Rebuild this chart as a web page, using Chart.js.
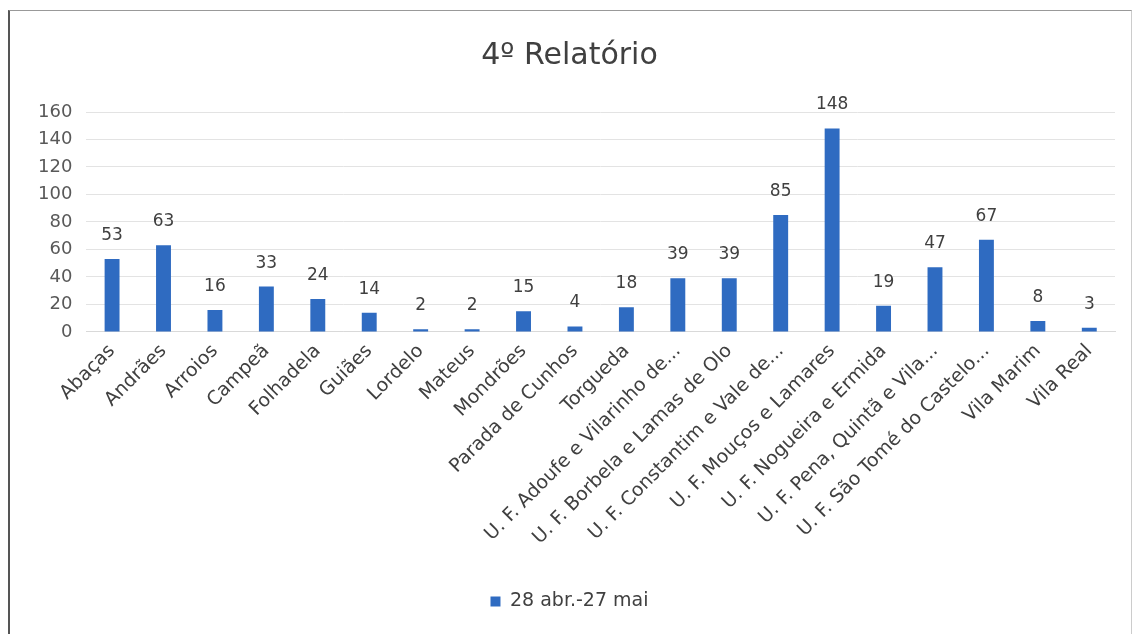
<!DOCTYPE html>
<html>
<head>
<meta charset="utf-8">
<script src="https://cdn.jsdelivr.net/npm/chart.js@4/dist/chart.umd.min.js"></script>
<style>
  html, body { margin: 0; padding: 0; background: #fff; }
  #wrap {
    position: absolute; left: 8px; top: 10px; width: 1124px; height: 624px;
    border-left: 2px solid #555; border-top: 1px solid #999; border-right: 1px solid #ccc;
    box-sizing: border-box;
  }
</style>
</head>
<body>
<div id="wrap"><canvas id="chart"></canvas></div>
<script>
const categories = [
  "Abaças", "Andrães", "Arroios", "Campeã", "Folhadela", "Guiães", "Lordelo", "Mateus",
  "Mondrões", "Parada de Cunhos", "Torgueda", "U. F. Adoufe e Vilarinho de...",
  "U. F. Borbela e Lamas de Olo", "U. F. Constantim e Vale de...", "U. F. Mouços e Lamares",
  "U. F. Nogueira e Ermida", "U. F. Pena, Quintã e Vila...", "U. F. São Tomé do Castelo...",
  "Vila Marim", "Vila Real"
];
const values = [53, 63, 16, 33, 24, 14, 2, 2, 15, 4, 18, 39, 39, 85, 148, 19, 47, 67, 8, 3];
const seriesLabel = "28 abr.-27 mai";
const chartTitle = "4º Relatório";

// draws the value above each bar, positioned from the bar elements
const valueLabels = {
  id: 'valueLabels',
  afterDatasetsDraw(chart) {
    const ctx = chart.ctx;
    const meta = chart.getDatasetMeta(0);
    ctx.save();
    ctx.font = '17px "DejaVu Sans", sans-serif';
    ctx.fillStyle = '#404040';
    ctx.textAlign = 'center';
    ctx.textBaseline = 'bottom';
    meta.data.forEach((bar, i) => {
      ctx.fillText(String(values[i]), bar.x, bar.y - 15);
    });
    ctx.restore();
  }
};

Chart.defaults.font.family = '"DejaVu Sans", sans-serif';
Chart.defaults.color = '#404040';

new Chart(document.getElementById('chart').getContext('2d'), {
  type: 'bar',
  data: {
    labels: categories,
    datasets: [{
      label: seriesLabel,
      data: values,
      backgroundColor: '#2F6BC1',
      borderWidth: 0,
      barPercentage: 0.58,
      categoryPercentage: 0.5
    }]
  },
  options: {
    responsive: true,
    maintainAspectRatio: false,
    animation: false,
    layout: { padding: { left: 14, right: 16, top: 12, bottom: 13 } },
    plugins: {
      title: {
        display: true,
        text: chartTitle,
        font: { size: 30, weight: 'normal' },
        color: '#404040',
        padding: { top: 15, bottom: 38 }
      },
      legend: {
        display: true,
        position: 'bottom',
        labels: {
          boxWidth: 10,
          boxHeight: 10,
          font: { size: 19 },
          color: '#404040',
          padding: 10
        }
      },
      tooltip: { enabled: false }
    },
    scales: {
      x: {
        grid: { display: false, drawTicks: false },
        border: { color: '#d9d9d9' },
        ticks: {
          minRotation: 45,
          maxRotation: 45,
          autoSkip: false,
          font: { size: 19 },
          color: '#404040',
          padding: 8
        },
        // leave room between the labels and the legend
        afterFit(scale) { scale.height += 25; }
      },
      y: {
        min: 0,
        max: 160,
        grid: { color: '#e3e3e3', drawTicks: false },
        border: { display: false },
        ticks: {
          stepSize: 20,
          font: { size: 18 },
          color: '#595959',
          padding: 14
        }
      }
    }
  },
  plugins: [valueLabels]
});
</script>
</body>
</html>
